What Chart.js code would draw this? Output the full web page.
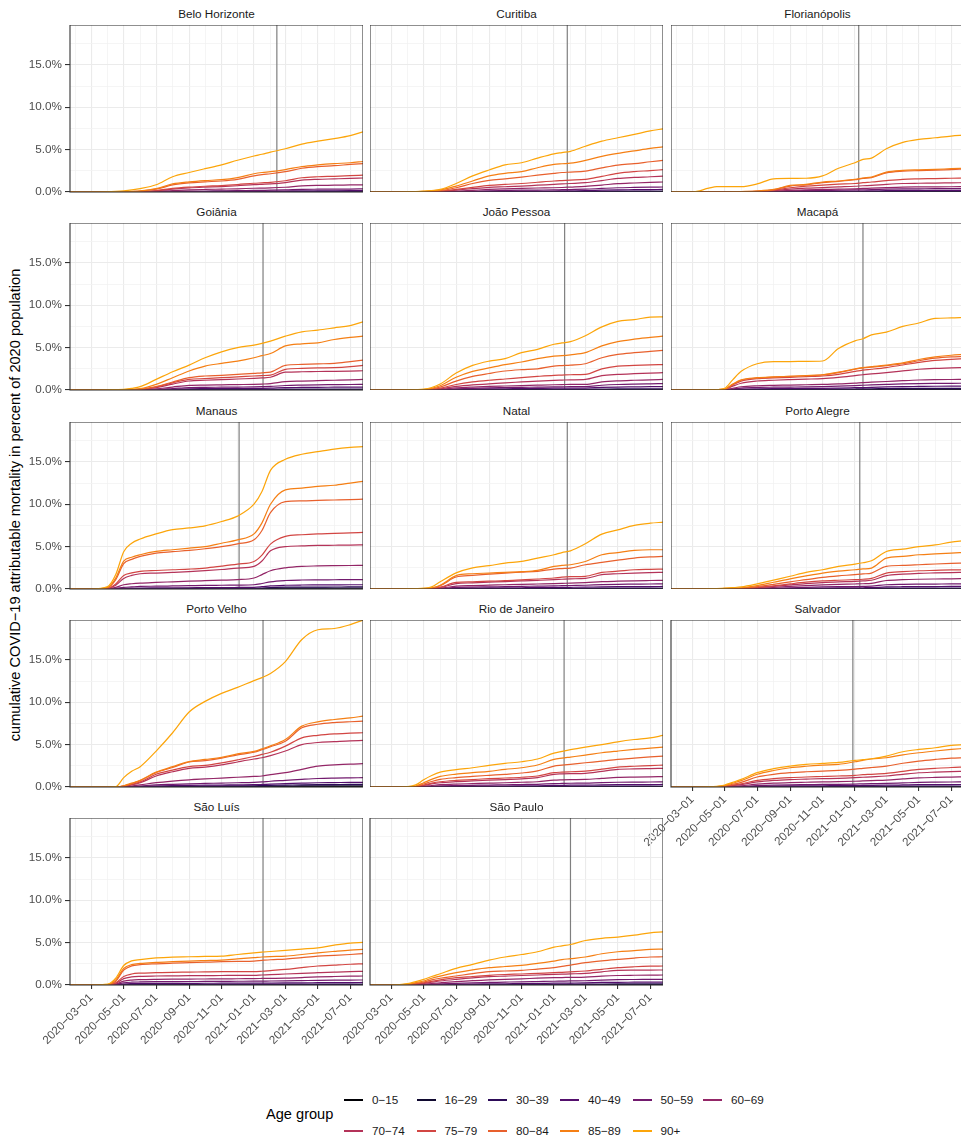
<!DOCTYPE html>
<html lang="en">
<head>
  <meta charset="UTF-8" />
  <title>Cumulative COVID-19 attributable mortality</title>
  <style>
    body {
      margin: 0;
      width: 961px;
      height: 1139px;
      position: relative;
      overflow: hidden;
      background: #ffffff;
      font-family: "Liberation Sans", Arial, Helvetica, sans-serif;
    }
    .panel { position: absolute; }
    .strip {
      position: absolute;
      height: 16px;
      line-height: 16px;
      text-align: center;
      font-size: 11.7px;
      color: #1a1a1a;
    }
    #ytitle {
      position: absolute;
      left: 15px;
      top: 505px;
      transform: translate(-50%, -50%) rotate(-90deg);
      white-space: nowrap;
      font-size: 14.6px;
      color: #000;
    }
    #legend-title {
      position: absolute;
      left: 266px;
      top: 1106px;
      font-size: 14.6px;
      color: #000;
    }
    .key { position: absolute; height: 16px; }
    .key span.line {
      position: absolute;
      left: 0;
      top: 7px;
      width: 19px;
      height: 1.6px;
    }
    .key span.lab {
      position: absolute;
      left: 28px;
      top: 0;
      line-height: 16px;
      font-size: 11.7px;
      color: #1a1a1a;
      white-space: nowrap;
    }
  </style>
</head>
<body>
  <div id="ytitle">cumulative COVID−19 attributable mortality in percent of 2020 population</div>
  <div id="legend-title">Age group</div>

  <script src="https://cdn.jsdelivr.net/npm/chart.js"></script>
  <script>
    // sample dates shared by every series
    const dates = ['2020-01-21', '2020-03-01', '2020-04-01', '2020-04-16', '2020-05-01', '2020-05-16', '2020-06-01',
      '2020-07-01', '2020-08-01', '2020-09-01', '2020-10-01', '2020-11-01', '2020-12-01',
      '2021-01-01', '2021-01-16', '2021-02-01', '2021-03-01', '2021-04-01', '2021-05-01',
      '2021-06-01', '2021-07-01', '2021-07-25'];

    const ageGroups = ['0−15', '16−29', '30−39', '40−49', '50−59', '60−69', '70−74', '75−79', '80−84', '85−89', '90+'];
    const ageColors = ['#000004', '#100930', '#2d0b58', '#540f6d', '#721a6e', '#932667', '#b43359', '#d24643', '#e8602d', '#f57f14', '#fca50a'];

    const cityNames = ['Belo Horizonte', 'Curitiba', 'Florianópolis', 'Goiânia', 'João Pessoa', 'Macapá', 'Manaus',
      'Natal', 'Porto Alegre', 'Porto Velho', 'Rio de Janeiro', 'Salvador', 'São Luís', 'São Paulo'];
    const vlineDates = ['2021-02-13', '2021-01-26', '2021-01-08', '2021-01-18', '2021-01-21', '2021-01-16', '2020-12-04',
      '2021-01-26', '2021-01-10', '2021-01-18', '2021-01-20', '2020-12-28', '2021-01-18', '2021-02-01'];

    // y ticks (percent)
    const yMax = 19.7;
    const yLabelled = [0, 5, 10, 15];

    // cumulative mortality in %, one row per age group (0-15 ... 90+)
    const belo = [
      [0,0,0,0,0,0,0,0.001,0.002,0.002,0.003,0.003,0.003,0.004,0.004,0.004,0.004,0.005,0.005,0.005,0.005,0.005],
      [0,0,0,0,0,0,0.001,0.003,0.006,0.008,0.009,0.01,0.011,0.012,0.013,0.014,0.016,0.02,0.022,0.023,0.024,0.025],
      [0,0,0,0,0,0.001,0.002,0.006,0.014,0.02,0.024,0.027,0.03,0.035,0.037,0.04,0.047,0.058,0.062,0.065,0.068,0.07],
      [0,0,0,0,0,0.002,0.004,0.012,0.03,0.045,0.055,0.063,0.072,0.083,0.088,0.093,0.11,0.135,0.145,0.15,0.155,0.16],
      [0,0,0,0,0.002,0.005,0.01,0.03,0.07,0.1,0.12,0.14,0.16,0.19,0.2,0.21,0.25,0.31,0.33,0.34,0.35,0.36],
      [0,0,0,0.002,0.005,0.01,0.02,0.07,0.17,0.25,0.3,0.34,0.38,0.44,0.46,0.48,0.56,0.72,0.78,0.8,0.83,0.85],
      [0,0,0,0.004,0.01,0.02,0.04,0.13,0.33,0.48,0.57,0.64,0.74,0.87,0.91,0.95,1.1,1.4,1.5,1.55,1.6,1.65],
      [0,0,0,0.005,0.01,0.03,0.05,0.18,0.43,0.58,0.68,0.76,0.88,1.03,1.08,1.14,1.33,1.68,1.8,1.85,1.92,2.0],
      [0,0,0.005,0.01,0.03,0.06,0.1,0.33,0.83,1.08,1.2,1.3,1.5,1.9,2.05,2.15,2.4,2.8,3.0,3.1,3.25,3.35],
      [0,0,0.005,0.015,0.04,0.07,0.13,0.4,0.95,1.2,1.35,1.45,1.7,2.15,2.3,2.4,2.65,3.0,3.2,3.35,3.45,3.6],
      [0,0,0.03,0.08,0.15,0.25,0.4,0.85,1.8,2.3,2.75,3.2,3.75,4.25,4.45,4.7,5.1,5.65,6.0,6.3,6.65,7.1]
    ];
    const curitiba = [
      [0,0,0,0,0,0,0,0.001,0.001,0.002,0.002,0.002,0.003,0.003,0.003,0.003,0.004,0.004,0.005,0.005,0.005,0.005],
      [0,0,0,0,0,0,0.001,0.003,0.006,0.009,0.011,0.013,0.015,0.017,0.018,0.019,0.022,0.028,0.033,0.036,0.038,0.04],
      [0,0,0,0,0,0.001,0.003,0.008,0.018,0.028,0.034,0.04,0.045,0.05,0.053,0.057,0.065,0.085,0.1,0.11,0.115,0.12],
      [0,0,0,0,0.002,0.004,0.008,0.02,0.045,0.07,0.085,0.1,0.11,0.12,0.13,0.14,0.16,0.21,0.25,0.27,0.29,0.3],
      [0,0,0,0.002,0.005,0.01,0.02,0.05,0.1,0.15,0.18,0.21,0.23,0.25,0.27,0.29,0.33,0.42,0.5,0.54,0.57,0.59],
      [0,0,0.002,0.005,0.01,0.02,0.04,0.1,0.2,0.3,0.37,0.43,0.47,0.5,0.53,0.58,0.67,0.82,0.98,1.06,1.13,1.18],
      [0,0,0.003,0.008,0.02,0.04,0.07,0.23,0.4,0.55,0.62,0.7,0.8,0.9,0.95,1.0,1.1,1.35,1.6,1.72,1.8,1.88],
      [0,0,0.005,0.01,0.03,0.05,0.09,0.3,0.55,0.78,0.9,1.0,1.15,1.3,1.35,1.4,1.5,1.85,2.2,2.4,2.52,2.63],
      [0,0,0.01,0.02,0.05,0.1,0.15,0.5,1.0,1.37,1.55,1.76,1.98,2.2,2.3,2.35,2.47,2.85,3.18,3.35,3.57,3.73],
      [0,0,0.01,0.03,0.08,0.14,0.23,0.7,1.3,1.9,2.2,2.4,2.86,3.25,3.33,3.4,3.73,4.2,4.55,4.85,5.14,5.33],
      [0,0,0.02,0.05,0.1,0.18,0.3,1.0,1.9,2.6,3.2,3.45,4.0,4.5,4.65,4.8,5.4,6.0,6.4,6.8,7.2,7.45]
    ];
    const floripa = [
      [0,0,0,0,0,0,0,0,0.001,0.001,0.001,0.002,0.002,0.002,0.002,0.002,0.003,0.003,0.003,0.003,0.003,0.003],
      [0,0,0,0,0,0,0,0.001,0.003,0.007,0.009,0.011,0.012,0.014,0.015,0.016,0.02,0.023,0.024,0.025,0.025,0.026],
      [0,0,0,0,0,0,0.001,0.003,0.01,0.025,0.032,0.037,0.041,0.045,0.05,0.054,0.065,0.073,0.076,0.078,0.08,0.08],
      [0,0,0,0,0,0.002,0.003,0.008,0.025,0.06,0.08,0.09,0.1,0.11,0.12,0.13,0.16,0.18,0.19,0.19,0.2,0.2],
      [0,0,0,0,0.002,0.004,0.006,0.015,0.05,0.12,0.16,0.19,0.21,0.24,0.26,0.28,0.33,0.37,0.38,0.39,0.4,0.4],
      [0,0,0,0.002,0.004,0.007,0.01,0.03,0.09,0.2,0.26,0.3,0.34,0.38,0.42,0.45,0.52,0.58,0.6,0.61,0.62,0.63],
      [0,0,0,0.003,0.006,0.01,0.02,0.05,0.15,0.33,0.45,0.52,0.6,0.68,0.74,0.78,0.9,1.0,1.03,1.05,1.08,1.1],
      [0,0,0,0.005,0.01,0.02,0.03,0.07,0.23,0.5,0.7,0.82,0.92,1.0,1.1,1.18,1.35,1.5,1.55,1.58,1.62,1.65],
      [0,0,0.005,0.01,0.02,0.03,0.05,0.1,0.26,0.7,0.85,1.1,1.25,1.45,1.6,1.7,2.25,2.45,2.52,2.58,2.65,2.7],
      [0,0,0.005,0.01,0.02,0.04,0.06,0.12,0.3,0.78,0.9,1.18,1.3,1.5,1.65,1.76,2.35,2.55,2.62,2.67,2.75,2.8],
      [0,0,0.45,0.63,0.63,0.63,0.63,0.95,1.55,1.6,1.62,1.9,2.8,3.45,3.85,4.0,5.1,5.85,6.2,6.4,6.6,6.7]
    ];
    const goiania = [
      [0,0,0,0,0,0,0,0.001,0.002,0.003,0.003,0.003,0.004,0.004,0.004,0.004,0.005,0.005,0.005,0.005,0.005,0.005],
      [0,0,0,0,0,0,0.001,0.003,0.01,0.017,0.019,0.021,0.023,0.025,0.026,0.028,0.034,0.037,0.038,0.039,0.04,0.04],
      [0,0,0,0,0,0.001,0.003,0.01,0.03,0.05,0.056,0.06,0.065,0.07,0.074,0.08,0.1,0.11,0.115,0.118,0.12,0.12],
      [0,0,0,0,0.002,0.004,0.008,0.03,0.09,0.15,0.16,0.17,0.18,0.19,0.2,0.22,0.28,0.3,0.32,0.33,0.34,0.35],
      [0,0,0,0.002,0.004,0.008,0.015,0.06,0.17,0.28,0.31,0.33,0.35,0.37,0.39,0.42,0.53,0.58,0.61,0.63,0.65,0.67],
      [0,0,0.002,0.004,0.008,0.015,0.03,0.13,0.35,0.55,0.58,0.61,0.64,0.67,0.7,0.75,0.98,1.05,1.1,1.15,1.2,1.25],
      [0,0,0.003,0.006,0.015,0.03,0.06,0.28,0.7,1.06,1.15,1.22,1.3,1.37,1.42,1.5,2.1,2.15,2.18,2.2,2.23,2.27],
      [0,0,0.005,0.01,0.02,0.04,0.08,0.35,0.85,1.25,1.35,1.45,1.55,1.65,1.7,1.76,2.43,2.55,2.6,2.63,2.75,2.9],
      [0,0,0.005,0.01,0.02,0.05,0.1,0.4,0.94,1.45,1.65,1.73,1.84,1.96,2.03,2.1,2.9,3.02,3.08,3.14,3.35,3.53],
      [0,0,0.01,0.02,0.05,0.1,0.16,0.67,1.45,2.24,2.82,3.14,3.4,3.8,4.05,4.3,5.2,5.45,5.57,5.96,6.2,6.35],
      [0,0,0.02,0.05,0.08,0.2,0.4,1.25,2.15,2.94,3.8,4.5,5.0,5.3,5.5,5.76,6.35,6.86,7.06,7.33,7.6,8.04]
    ];
    const joaoPessoa = [
      [0,0,0,0,0,0,0,0.001,0.002,0.003,0.003,0.004,0.004,0.004,0.004,0.004,0.005,0.006,0.006,0.006,0.006,0.006],
      [0,0,0,0,0,0,0.002,0.006,0.011,0.015,0.018,0.021,0.024,0.027,0.028,0.029,0.031,0.038,0.044,0.047,0.049,0.05],
      [0,0,0,0,0,0.002,0.006,0.02,0.035,0.045,0.055,0.062,0.07,0.078,0.08,0.083,0.088,0.11,0.13,0.14,0.145,0.15],
      [0,0,0,0,0.002,0.007,0.02,0.06,0.1,0.13,0.15,0.17,0.19,0.21,0.215,0.22,0.23,0.3,0.35,0.37,0.39,0.4],
      [0,0,0,0.002,0.005,0.015,0.04,0.13,0.2,0.25,0.28,0.31,0.34,0.37,0.38,0.39,0.4,0.56,0.65,0.7,0.73,0.75],
      [0,0,0.002,0.004,0.01,0.03,0.08,0.25,0.35,0.42,0.47,0.52,0.57,0.62,0.64,0.66,0.67,0.95,1.08,1.15,1.2,1.25],
      [0,0,0.003,0.006,0.015,0.05,0.15,0.42,0.6,0.72,0.85,0.95,1.05,1.14,1.17,1.2,1.25,1.7,1.84,1.92,1.98,2.04],
      [0,0,0.005,0.01,0.02,0.08,0.22,0.65,0.95,1.15,1.3,1.45,1.6,1.73,1.76,1.8,1.84,2.5,2.82,2.9,2.96,3.0],
      [0,0,0.01,0.02,0.04,0.12,0.35,1.05,1.6,1.95,2.24,2.4,2.5,2.82,2.88,2.94,3.1,3.8,4.2,4.4,4.55,4.67],
      [0,0,0.01,0.03,0.06,0.2,0.5,1.5,2.2,2.6,3.0,3.3,3.7,4.0,4.05,4.15,4.4,5.2,5.7,6.0,6.2,6.35],
      [0,0,0.02,0.05,0.1,0.3,0.7,2.0,2.9,3.4,3.7,4.4,4.8,5.4,5.55,5.7,6.4,7.45,8.1,8.3,8.6,8.63]
    ];
    const macapa = [
      [0,0,0,0,0,0.001,0.002,0.003,0.003,0.004,0.004,0.004,0.005,0.006,0.006,0.007,0.008,0.008,0.009,0.009,0.009,0.009],
      [0,0,0,0,0.001,0.008,0.015,0.02,0.023,0.025,0.027,0.029,0.034,0.042,0.046,0.05,0.056,0.062,0.066,0.068,0.07,0.07],
      [0,0,0,0.001,0.004,0.025,0.045,0.06,0.07,0.075,0.08,0.085,0.1,0.12,0.13,0.14,0.16,0.18,0.19,0.2,0.2,0.2],
      [0,0,0,0.002,0.01,0.06,0.11,0.15,0.17,0.18,0.19,0.2,0.23,0.27,0.29,0.31,0.36,0.4,0.42,0.44,0.45,0.45],
      [0,0,0,0.005,0.02,0.12,0.22,0.3,0.33,0.35,0.37,0.4,0.45,0.52,0.56,0.6,0.66,0.72,0.76,0.78,0.79,0.8],
      [0,0,0.002,0.008,0.03,0.2,0.38,0.5,0.55,0.58,0.62,0.66,0.72,0.82,0.88,0.92,1.0,1.1,1.18,1.22,1.24,1.25],
      [0,0,0.004,0.015,0.06,0.45,0.8,1.06,1.15,1.22,1.28,1.35,1.5,1.7,1.8,1.9,2.05,2.25,2.45,2.55,2.6,2.65],
      [0,0,0.005,0.02,0.08,0.6,1.05,1.33,1.42,1.5,1.57,1.65,1.85,2.2,2.35,2.45,2.65,2.95,3.25,3.5,3.62,3.7],
      [0,0,0.01,0.03,0.1,0.65,1.15,1.42,1.52,1.6,1.68,1.78,2.05,2.45,2.6,2.7,2.88,3.1,3.45,3.75,3.9,3.95],
      [0,0,0.01,0.03,0.1,0.7,1.2,1.45,1.55,1.62,1.7,1.8,2.1,2.5,2.65,2.75,2.94,3.2,3.6,3.9,4.1,4.2],
      [0,0,0.02,0.05,0.2,1.2,2.2,3.1,3.35,3.35,3.38,3.42,4.9,5.8,6.05,6.5,6.82,7.5,7.9,8.45,8.5,8.55]
    ];
    const manaus = [
      [0,0,0,0.001,0.003,0.004,0.005,0.005,0.006,0.006,0.007,0.007,0.008,0.009,0.012,0.016,0.02,0.022,0.023,0.024,0.025,0.025],
      [0,0,0.001,0.005,0.012,0.016,0.018,0.02,0.022,0.024,0.026,0.028,0.03,0.034,0.05,0.075,0.1,0.11,0.115,0.118,0.12,0.12],
      [0,0,0.002,0.015,0.035,0.045,0.05,0.055,0.06,0.064,0.068,0.072,0.076,0.085,0.12,0.17,0.21,0.225,0.23,0.235,0.24,0.24],
      [0,0,0.005,0.03,0.08,0.1,0.12,0.13,0.14,0.15,0.16,0.17,0.18,0.2,0.27,0.37,0.44,0.47,0.48,0.49,0.5,0.5],
      [0,0,0.01,0.08,0.2,0.25,0.3,0.33,0.36,0.39,0.42,0.44,0.46,0.5,0.65,0.85,1.0,1.06,1.08,1.09,1.1,1.1],
      [0,0,0.03,0.2,0.5,0.62,0.7,0.78,0.85,0.92,0.98,1.04,1.1,1.3,1.7,2.15,2.5,2.67,2.72,2.75,2.77,2.78],
      [0,0,0.06,0.45,1.25,1.6,1.8,1.88,1.96,2.05,2.16,2.3,2.47,2.67,3.3,4.5,5.0,5.08,5.14,5.16,5.18,5.2],
      [0,0,0.08,0.6,1.6,1.9,2.08,2.18,2.27,2.35,2.47,2.7,2.94,3.25,4.0,5.3,6.2,6.4,6.5,6.55,6.62,6.67],
      [0,0,0.15,1.1,3.0,3.5,3.84,4.24,4.4,4.55,4.75,5.0,5.33,5.8,6.9,9.0,10.3,10.4,10.45,10.5,10.55,10.6],
      [0,0,0.2,1.3,3.3,3.75,4.04,4.43,4.63,4.82,5.0,5.4,5.8,6.5,7.8,10.0,11.7,11.9,12.1,12.24,12.5,12.7],
      [0,0,0.3,1.7,4.4,5.4,5.9,6.5,7.0,7.2,7.45,7.96,8.6,10.0,11.5,14.0,15.3,15.9,16.2,16.5,16.7,16.8]
    ];
    const natal = [
      [0,0,0,0,0,0,0,0.001,0.002,0.002,0.002,0.003,0.003,0.003,0.003,0.003,0.004,0.004,0.004,0.005,0.005,0.005],
      [0,0,0,0,0,0.001,0.003,0.011,0.014,0.016,0.018,0.02,0.022,0.024,0.025,0.026,0.029,0.034,0.036,0.038,0.039,0.04],
      [0,0,0,0,0,0.003,0.01,0.035,0.043,0.05,0.055,0.06,0.065,0.07,0.074,0.078,0.085,0.1,0.108,0.113,0.117,0.12],
      [0,0,0,0,0.002,0.007,0.025,0.09,0.11,0.13,0.14,0.15,0.16,0.18,0.19,0.2,0.22,0.25,0.27,0.28,0.29,0.3],
      [0,0,0,0.002,0.005,0.015,0.05,0.18,0.22,0.25,0.28,0.31,0.34,0.37,0.39,0.41,0.44,0.51,0.55,0.57,0.59,0.6],
      [0,0,0.002,0.005,0.01,0.03,0.09,0.33,0.4,0.45,0.5,0.55,0.59,0.63,0.66,0.7,0.75,0.86,0.92,0.97,1.0,1.02],
      [0,0,0.004,0.008,0.02,0.06,0.17,0.63,0.72,0.8,0.88,0.95,1.02,1.1,1.15,1.2,1.25,1.69,1.8,1.88,1.93,1.96],
      [0,0,0.005,0.01,0.03,0.08,0.22,0.78,0.85,0.92,0.98,1.08,1.18,1.3,1.4,1.45,1.5,1.96,2.1,2.27,2.32,2.35],
      [0,0,0.01,0.02,0.05,0.12,0.38,1.41,1.6,1.75,1.88,1.98,2.08,2.35,2.41,2.47,2.86,3.14,3.4,3.65,3.78,3.84],
      [0,0,0.01,0.03,0.06,0.15,0.45,1.57,1.8,1.88,1.96,2.04,2.2,2.67,2.78,2.86,3.25,4.04,4.3,4.55,4.63,4.63],
      [0,0,0.02,0.05,0.1,0.25,0.85,1.9,2.5,2.75,3.06,3.25,3.65,4.04,4.3,4.5,5.33,6.47,6.98,7.5,7.76,7.88]
    ];
    const portoAlegre = [
      [0,0,0,0,0,0,0,0,0.001,0.001,0.002,0.002,0.002,0.002,0.002,0.003,0.003,0.004,0.004,0.004,0.004,0.004],
      [0,0,0,0,0,0,0.001,0.002,0.005,0.009,0.012,0.015,0.017,0.019,0.02,0.022,0.031,0.035,0.037,0.038,0.039,0.04],
      [0,0,0,0,0,0.001,0.002,0.008,0.018,0.028,0.038,0.046,0.052,0.056,0.06,0.066,0.095,0.107,0.112,0.116,0.119,0.12],
      [0,0,0,0,0.002,0.004,0.006,0.02,0.045,0.07,0.095,0.115,0.13,0.14,0.15,0.165,0.24,0.27,0.28,0.29,0.3,0.3],
      [0,0,0,0.002,0.004,0.008,0.012,0.04,0.09,0.15,0.2,0.24,0.27,0.29,0.31,0.34,0.5,0.55,0.57,0.58,0.6,0.6],
      [0,0,0.002,0.004,0.008,0.015,0.025,0.08,0.18,0.3,0.4,0.48,0.54,0.59,0.62,0.67,1.0,1.1,1.15,1.18,1.2,1.22],
      [0,0,0.004,0.008,0.015,0.03,0.05,0.15,0.3,0.48,0.64,0.76,0.84,0.9,0.95,1.03,1.57,1.75,1.85,1.9,1.94,1.96],
      [0,0,0.005,0.01,0.02,0.04,0.06,0.18,0.38,0.6,0.8,0.95,1.03,1.1,1.15,1.25,1.88,2.05,2.15,2.2,2.25,2.27],
      [0,0,0.01,0.02,0.04,0.06,0.1,0.28,0.55,0.85,1.1,1.37,1.55,1.69,1.78,1.88,2.67,2.78,2.86,2.95,3.02,3.06],
      [0,0,0.02,0.04,0.07,0.1,0.15,0.4,0.8,1.2,1.55,1.88,2.1,2.27,2.37,2.47,3.65,3.85,4.04,4.15,4.24,4.3],
      [0,0,0.03,0.06,0.1,0.16,0.24,0.6,1.05,1.5,1.96,2.27,2.67,2.94,3.1,3.33,4.43,4.7,5.0,5.2,5.53,5.7]
    ];
    const portoVelho = [
      [0,0,0,0,0,0.002,0.004,0.01,0.013,0.015,0.017,0.018,0.02,0.023,0.026,0.03,0.035,0.042,0.046,0.048,0.05,0.05],
      [0,0,0,0,0.002,0.006,0.012,0.03,0.04,0.047,0.052,0.056,0.06,0.07,0.08,0.09,0.105,0.125,0.14,0.145,0.15,0.15],
      [0,0,0,0,0.005,0.015,0.03,0.065,0.09,0.1,0.11,0.12,0.13,0.15,0.17,0.19,0.22,0.26,0.28,0.29,0.3,0.3],
      [0,0,0,0.001,0.01,0.03,0.06,0.12,0.16,0.19,0.21,0.23,0.25,0.27,0.3,0.34,0.39,0.45,0.5,0.52,0.54,0.55],
      [0,0,0,0.003,0.02,0.06,0.12,0.25,0.32,0.38,0.42,0.46,0.5,0.55,0.6,0.68,0.78,0.9,1.0,1.05,1.08,1.1],
      [0,0,0,0.005,0.04,0.12,0.25,0.51,0.7,0.85,0.95,1.05,1.15,1.25,1.3,1.45,1.69,2.08,2.47,2.6,2.7,2.75],
      [0,0,0,0.01,0.08,0.25,0.5,1.3,1.8,2.2,2.35,2.6,2.95,3.3,3.45,3.7,4.24,5.0,5.25,5.35,5.45,5.49],
      [0,0,0,0.015,0.1,0.3,0.6,1.5,2.0,2.4,2.55,2.85,3.2,3.6,3.84,4.1,4.82,5.8,6.1,6.27,6.35,6.4],
      [0,0,0,0.02,0.12,0.4,0.75,1.69,2.3,2.95,3.1,3.4,3.8,4.1,4.4,4.75,5.4,6.98,7.4,7.6,7.7,7.76],
      [0,0,0,0.02,0.15,0.45,0.8,1.75,2.4,3.0,3.25,3.5,3.9,4.2,4.5,4.85,5.6,7.18,7.69,7.96,8.16,8.35],
      [0,0,0,0.05,1.1,1.85,2.4,4.24,6.4,8.85,10.1,11.05,11.75,12.55,12.9,13.4,14.8,17.4,18.55,18.7,19.15,19.7]
    ];
    const rio = [
      [0,0,0,0,0,0.001,0.001,0.002,0.002,0.002,0.003,0.003,0.003,0.004,0.004,0.004,0.004,0.005,0.005,0.005,0.005,0.005],
      [0,0,0,0,0.002,0.005,0.008,0.011,0.013,0.015,0.017,0.019,0.021,0.026,0.028,0.029,0.031,0.034,0.037,0.038,0.039,0.04],
      [0,0,0,0.002,0.008,0.016,0.024,0.032,0.038,0.043,0.048,0.053,0.058,0.072,0.076,0.08,0.085,0.097,0.107,0.112,0.116,0.12],
      [0,0,0.001,0.005,0.02,0.04,0.06,0.08,0.095,0.11,0.12,0.135,0.15,0.19,0.2,0.21,0.22,0.25,0.27,0.28,0.29,0.3],
      [0,0,0.002,0.01,0.045,0.09,0.13,0.17,0.2,0.23,0.26,0.29,0.32,0.4,0.42,0.44,0.46,0.52,0.56,0.58,0.59,0.6],
      [0,0,0.004,0.02,0.09,0.18,0.27,0.35,0.4,0.45,0.5,0.56,0.62,0.8,0.84,0.87,0.9,1.02,1.13,1.17,1.2,1.22],
      [0,0,0.008,0.04,0.18,0.36,0.5,0.63,0.72,0.8,0.88,0.96,1.1,1.5,1.55,1.58,1.61,1.85,2.08,2.13,2.17,2.2],
      [0,0,0.01,0.05,0.22,0.45,0.62,0.78,0.88,0.98,1.06,1.15,1.3,1.69,1.75,1.8,1.88,2.1,2.35,2.45,2.52,2.59],
      [0,0,0.02,0.08,0.35,0.65,0.9,1.1,1.25,1.38,1.5,1.65,1.9,2.47,2.58,2.68,2.86,3.05,3.25,3.4,3.55,3.65],
      [0,0,0.03,0.12,0.5,0.9,1.25,1.52,1.69,1.85,2.08,2.27,2.6,3.25,3.4,3.53,3.76,4.04,4.24,4.43,4.58,4.7],
      [0,0,0.05,0.25,0.85,1.35,1.75,2.05,2.27,2.55,2.78,2.98,3.3,4.0,4.2,4.4,4.7,5.0,5.33,5.6,5.8,6.08]
    ];
    const salvador = [
      [0,0,0,0,0,0,0.001,0.002,0.002,0.003,0.003,0.003,0.003,0.003,0.004,0.004,0.004,0.004,0.005,0.005,0.005,0.005],
      [0,0,0,0,0.001,0.003,0.005,0.011,0.015,0.017,0.019,0.02,0.021,0.023,0.024,0.025,0.028,0.032,0.036,0.038,0.039,0.04],
      [0,0,0,0.001,0.003,0.008,0.014,0.032,0.044,0.052,0.056,0.06,0.064,0.068,0.072,0.076,0.084,0.096,0.108,0.113,0.117,0.12],
      [0,0,0.001,0.002,0.007,0.02,0.035,0.08,0.11,0.13,0.14,0.15,0.16,0.17,0.18,0.19,0.21,0.24,0.27,0.28,0.29,0.3],
      [0,0,0.002,0.005,0.015,0.04,0.07,0.16,0.22,0.26,0.28,0.3,0.32,0.35,0.37,0.39,0.42,0.48,0.54,0.57,0.59,0.6],
      [0,0,0.003,0.01,0.03,0.08,0.15,0.33,0.45,0.52,0.56,0.6,0.63,0.68,0.72,0.76,0.82,0.95,1.07,1.13,1.17,1.2],
      [0,0,0.006,0.02,0.06,0.16,0.28,0.6,0.78,0.88,0.93,0.98,1.02,1.1,1.15,1.2,1.3,1.5,1.68,1.76,1.82,1.85],
      [0,0,0.008,0.03,0.08,0.22,0.38,0.78,0.98,1.1,1.18,1.24,1.3,1.38,1.45,1.5,1.61,1.85,2.08,2.2,2.3,2.35],
      [0,0,0.01,0.04,0.12,0.32,0.55,1.18,1.5,1.69,1.8,1.88,1.96,2.1,2.2,2.3,2.47,2.8,3.06,3.25,3.4,3.45],
      [0,0,0.015,0.06,0.18,0.45,0.75,1.5,1.95,2.27,2.45,2.58,2.67,2.98,3.15,3.3,3.45,3.8,4.04,4.25,4.43,4.55],
      [0,0,0.02,0.08,0.24,0.55,0.9,1.69,2.16,2.47,2.67,2.78,2.9,3.14,3.22,3.33,3.65,4.16,4.43,4.63,4.9,5.0]
    ];
    const saoLuis = [
      [0,0,0,0,0.002,0.003,0.003,0.004,0.004,0.004,0.004,0.004,0.005,0.005,0.005,0.005,0.005,0.005,0.006,0.006,0.006,0.006],
      [0,0,0,0.003,0.016,0.022,0.025,0.027,0.028,0.029,0.03,0.031,0.032,0.033,0.034,0.035,0.036,0.038,0.039,0.04,0.04,0.04],
      [0,0,0,0.008,0.045,0.06,0.068,0.072,0.075,0.077,0.079,0.081,0.083,0.085,0.087,0.089,0.092,0.097,0.1,0.1,0.1,0.1],
      [0,0,0.002,0.02,0.12,0.16,0.18,0.19,0.195,0.2,0.205,0.21,0.215,0.22,0.225,0.23,0.24,0.26,0.27,0.28,0.29,0.3],
      [0,0,0.004,0.05,0.25,0.33,0.36,0.39,0.4,0.41,0.42,0.43,0.44,0.45,0.46,0.47,0.49,0.52,0.55,0.57,0.58,0.59],
      [0,0,0.008,0.1,0.45,0.58,0.63,0.67,0.69,0.7,0.71,0.72,0.74,0.76,0.77,0.78,0.8,0.88,0.95,1.0,1.04,1.06],
      [0,0,0.015,0.18,0.75,0.95,1.02,1.06,1.08,1.1,1.11,1.12,1.13,1.14,1.18,1.22,1.3,1.38,1.45,1.52,1.58,1.61],
      [0,0,0.02,0.25,1.0,1.3,1.4,1.45,1.5,1.52,1.55,1.57,1.57,1.57,1.62,1.7,1.84,2.05,2.24,2.35,2.45,2.5],
      [0,0,0.04,0.45,1.75,2.25,2.4,2.5,2.57,2.63,2.69,2.75,2.79,2.82,2.9,2.98,3.06,3.24,3.41,3.5,3.6,3.69],
      [0,0,0.05,0.6,1.95,2.4,2.55,2.67,2.75,2.82,2.88,2.94,3.08,3.22,3.3,3.35,3.41,3.6,3.8,3.97,4.12,4.2],
      [0,0,0.1,0.8,2.3,2.85,3.0,3.2,3.3,3.33,3.37,3.41,3.6,3.8,3.88,3.95,4.08,4.24,4.39,4.7,4.94,5.02]
    ];
    const saoPaulo = [
      [0,0,0,0,0,0.001,0.001,0.002,0.002,0.003,0.003,0.003,0.003,0.004,0.004,0.004,0.004,0.005,0.005,0.005,0.005,0.005],
      [0,0,0,0.001,0.002,0.004,0.006,0.01,0.014,0.017,0.02,0.023,0.026,0.029,0.03,0.032,0.035,0.041,0.046,0.048,0.05,0.05],
      [0,0,0.002,0.005,0.008,0.014,0.02,0.032,0.043,0.052,0.06,0.068,0.075,0.083,0.087,0.092,0.1,0.12,0.135,0.142,0.147,0.15],
      [0,0,0.005,0.012,0.02,0.035,0.05,0.08,0.11,0.13,0.15,0.17,0.19,0.21,0.22,0.23,0.25,0.3,0.32,0.33,0.34,0.35],
      [0,0,0.01,0.03,0.05,0.09,0.13,0.2,0.26,0.3,0.34,0.38,0.41,0.44,0.46,0.48,0.5,0.58,0.63,0.65,0.66,0.67],
      [0,0,0.02,0.06,0.1,0.18,0.26,0.4,0.52,0.6,0.67,0.73,0.8,0.86,0.88,0.9,0.94,1.05,1.12,1.15,1.17,1.18],
      [0,0,0.04,0.11,0.2,0.33,0.47,0.67,0.85,0.98,1.05,1.12,1.18,1.25,1.28,1.31,1.37,1.55,1.73,1.75,1.76,1.77],
      [0,0,0.05,0.14,0.25,0.42,0.6,0.86,1.0,1.14,1.24,1.3,1.38,1.45,1.5,1.55,1.65,1.85,2.04,2.15,2.22,2.24],
      [0,0,0.07,0.2,0.35,0.6,0.8,1.06,1.35,1.57,1.65,1.73,1.88,2.04,2.2,2.35,2.63,2.85,3.02,3.18,3.3,3.33],
      [0,0,0.1,0.28,0.47,0.8,1.05,1.45,1.78,2.04,2.18,2.31,2.55,2.82,3.0,3.1,3.3,3.69,3.92,4.05,4.2,4.24],
      [0,0,0.16,0.4,0.67,1.0,1.33,1.96,2.43,2.94,3.3,3.6,3.92,4.47,4.62,4.78,5.25,5.5,5.65,5.88,6.16,6.27]
    ];

    const cityData = [belo, curitiba, floripa, goiania, joaoPessoa, macapa, manaus,
      natal, portoAlegre, portoVelho, rio, salvador, saoLuis, saoPaulo];

    // --- helpers ---
    const DAY0 = Date.UTC(2020, 2, 1);
    const toDay = s => {
      const [y, m, d] = s.split('-').map(Number);
      return (Date.UTC(y, m - 1, d) - DAY0) / 86400000;
    };
    const xs = dates.map(toDay);
    const xMin = toDay('2020-01-21');
    const xMax = toDay('2021-07-25');

    // month ticks, labels every second month
    const xTicks = [];
    const xLabels = {};
    for (let y = 2020, m = 2; y < 2021 || m <= 7; m++) {
      if (m > 12) { m = 1; y++; }
      const iso = `${y}-${String(m).padStart(2, '0')}-01`;
      const d = toDay(iso);
      xTicks.push(d);
      if (m % 2 === 1) xLabels[d] = iso.replace(/-/g, '−');
    }

    const colLeft = [70, 370, 671];
    const rowTop = [25, 223, 422, 620, 818];
    const PW = 293, PH = 167;
    const bottomPanels = [11, 12, 13];

    Chart.defaults.font.family = '"Liberation Sans", Arial, Helvetica, sans-serif';
    Chart.defaults.animation = false;

    const deco = {
      id: 'deco',
      beforeDatasetsDraw(chart, args, opts) {
        const { ctx, chartArea: a } = chart;
        const x = chart.scales.x.getPixelForValue(opts.vline);
        ctx.save();
        ctx.strokeStyle = '#7f7f7f';
        ctx.lineWidth = 1.2;
        ctx.beginPath();
        ctx.moveTo(x, a.top);
        ctx.lineTo(x, a.bottom);
        ctx.stroke();
        ctx.restore();
      },
      afterDraw(chart) {
        const { ctx, chartArea: a } = chart;
        ctx.save();
        ctx.strokeStyle = '#333333';
        ctx.lineWidth = 1.1;
        ctx.strokeRect(a.left, a.top, a.right - a.left, a.bottom - a.top);
        ctx.restore();
      }
    };

    cityNames.forEach((name, i) => {
      const col = i % 3, row = Math.floor(i / 3);
      const isBottom = bottomPanels.includes(i);
      const showY = col === 0;
      const padL = showY ? colLeft[0] : (isBottom ? 60 : 0);
      const padB = isBottom ? 72 : (showY ? 8 : 0);

      const title = document.createElement('div');
      title.className = 'strip';
      title.style.left = colLeft[col] + 'px';
      title.style.width = PW + 'px';
      title.style.top = (rowTop[row] - 19) + 'px';
      title.textContent = name;
      document.body.appendChild(title);

      const box = document.createElement('div');
      box.className = 'panel';
      box.style.left = (colLeft[col] - padL) + 'px';
      box.style.top = rowTop[row] + 'px';
      box.style.width = (PW + padL) + 'px';
      box.style.height = (PH + padB) + 'px';
      const canvas = document.createElement('canvas');
      box.appendChild(canvas);
      document.body.appendChild(box);

      const datasets = ageGroups.map((g, k) => ({
        label: g,
        data: cityData[i][k].map((v, j) => ({ x: xs[j], y: v })),
        borderColor: ageColors[k],
        borderWidth: 1.2,
        pointRadius: 0,
        cubicInterpolationMode: 'monotone',
        fill: false,
        order: ageGroups.length - 1 - k
      }));

      new Chart(canvas, {
        type: 'line',
        data: { datasets },
        plugins: [deco],
        options: {
          responsive: true,
          maintainAspectRatio: false,
          layout: { padding: 0 },
          plugins: {
            legend: { display: false },
            tooltip: { enabled: false },
            deco: { vline: toDay(vlineDates[i]) }
          },
          scales: {
            x: {
              type: 'linear',
              min: xMin,
              max: xMax,
              border: { display: false },
              afterBuildTicks: s => { s.ticks = xTicks.map(v => ({ value: v })); },
              afterFit: s => {
                s.height = padB;
                s.paddingLeft = 0; s.paddingRight = 0;
              },
              grid: {
                color: c => (c.tick && xLabels[c.tick.value]) ? '#ebebeb' : '#f2f2f2',
                lineWidth: c => (c.tick && xLabels[c.tick.value]) ? 1.1 : 0.8,
                drawTicks: isBottom,
                tickLength: 4,
                tickColor: c => (c.tick && xLabels[c.tick.value]) ? '#333333' : 'rgba(0,0,0,0)'
              },
              ticks: {
                display: isBottom,
                autoSkip: false,
                minRotation: 45,
                maxRotation: 45,
                padding: 2,
                color: '#4d4d4d',
                font: { size: 11.7 },
                callback: v => xLabels[v] || ''
              }
            },
            y: {
              type: 'linear',
              min: 0,
              max: yMax,
              border: { display: false },
              afterFit: s => {
                s.width = padL;
                s.paddingTop = 0; s.paddingBottom = 0;
              },
              grid: {
                color: c => (c.tick && c.tick.value % 5 === 0) ? '#ebebeb' : '#f2f2f2',
                lineWidth: c => (c.tick && c.tick.value % 5 === 0) ? 1.1 : 0.8,
                drawTicks: showY,
                tickLength: 5,
                tickColor: c => (c.tick && c.tick.value % 5 === 0) ? '#333333' : 'rgba(0,0,0,0)'
              },
              ticks: {
                display: showY,
                stepSize: 2.5,
                includeBounds: false,
                padding: 3,
                color: '#4d4d4d',
                font: { size: 11.7 },
                callback: v => yLabelled.includes(v) ? v.toFixed(1) + '%' : ''
              }
            }
          }
        }
      });
    });

    // legend
    const legendX = [344, 416.5, 488, 560, 632.5, 703];
    ageGroups.forEach((g, k) => {
      const r = k < 6 ? 0 : 1;
      const c = k < 6 ? k : k - 6;
      const item = document.createElement('div');
      item.className = 'key';
      item.style.left = legendX[c] + 'px';
      item.style.top = (r === 0 ? 1092 : 1123) + 'px';
      item.innerHTML = `<span class="line" style="background:${ageColors[k]}"></span><span class="lab">${g}</span>`;
      document.body.appendChild(item);
    });
  </script>
</body>
</html>
